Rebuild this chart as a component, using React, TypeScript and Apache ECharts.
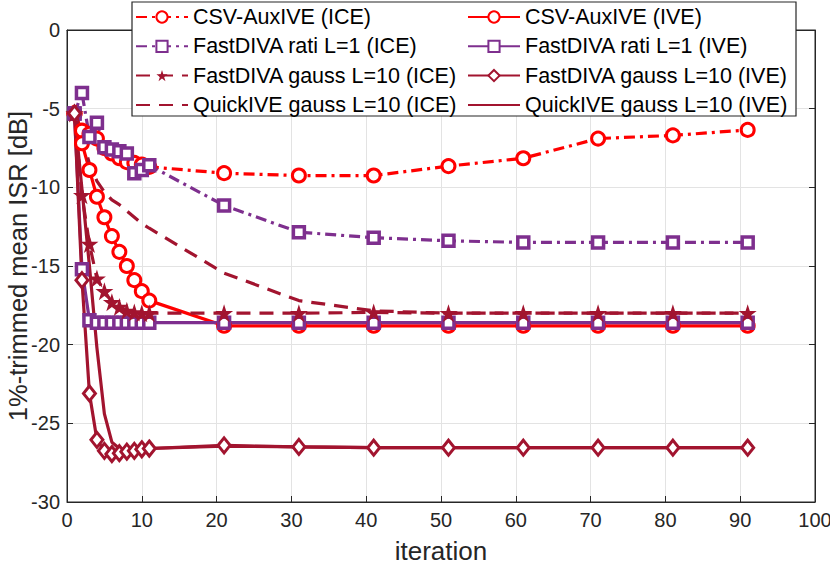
import React, { useEffect, useRef } from "react";
import * as echarts from "echarts";

const iterations = [1, 2, 3, 4, 5, 6, 7, 8, 9, 10, 11, 21, 31, 41, 51, 61, 71, 81, 91];

const csvIce = [-5.3, -6.4, -6.6, -6.9, -7.5, -7.85, -8.15, -8.4, -8.45, -8.55, -8.7, -9.1, -9.25, -9.25, -8.65, -8.15, -6.9, -6.7, -6.35];
const csvIve = [-5.3, -7.2, -8.9, -10.6, -11.9, -13.1, -14.1, -15.0, -15.9, -16.6, -17.2, -18.8, -18.8, -18.8, -18.8, -18.8, -18.8, -18.8, -18.8];
const ratiIce = [-5.3, -4.0, -6.8, -5.9, -7.45, -7.6, -7.7, -7.85, -9.1, -8.9, -8.6, -11.15, -12.85, -13.2, -13.4, -13.5, -13.5, -13.5, -13.5];
const ratiIve = [-5.3, -15.2, -18.45, -18.6, -18.6, -18.6, -18.6, -18.6, -18.6, -18.6, -18.6, -18.6, -18.6, -18.6, -18.6, -18.6, -18.6, -18.6, -18.6];
const gaussIce = [-5.3, -10.5, -13.6, -15.8, -16.6, -17.3, -17.6, -17.85, -17.95, -18.0, -18.0, -18.0, -18.0, -17.95, -18.0, -18.0, -18.0, -18.0, -18.0];
const gaussIve = [-5.3, -15.9, -23.1, -26.05, -26.75, -26.95, -26.9, -26.8, -26.75, -26.65, -26.6, -26.4, -26.5, -26.55, -26.55, -26.55, -26.55, -26.55, -26.55];
const quickIce = [-5.3, -6.8, -8.5, -9.6, -10.3, -10.8, -11.1, -11.5, -11.9, -12.3, -12.6, -15.45, -17.2, -17.85, -18.0, -18.0, -18.0, -18.0, -18.0];
const quickIve = [-5.3, -10.1, -15.0, -20.2, -24.4, -26.2, -26.6, -26.7, -26.65, -26.6, -26.6, -26.45, -26.5, -26.55, -26.55, -26.55, -26.55, -26.55, -26.55];

const xTicks = { min: 0, max: 100, step: 10 };
const yTicks = { min: -30, max: 0, step: 5 };

const names = {
  csvIce: "CSV-AuxIVE (ICE)",
  csvIve: "CSV-AuxIVE (IVE)",
  ratiIce: "FastDIVA rati L=1 (ICE)",
  ratiIve: "FastDIVA rati L=1 (IVE)",
  gaussIce: "FastDIVA gauss L=10 (ICE)",
  gaussIve: "FastDIVA gauss L=10 (IVE)",
  quickIce: "QuickIVE gauss L=10 (ICE)",
  quickIve: "QuickIVE gauss L=10 (IVE)",
};

const RED = "#FF0000";
const PURPLE = "#7E2F8E";
const DARKRED = "#A2142F";
const AXIS = "#262626";
const FONT = "'Liberation Sans', Arial, Helvetica, sans-serif";

const STAR = "path://M50,0 L61.2,34.5 L97.6,34.5 L68.2,55.9 L79.4,90.5 L50,69.1 L20.6,90.5 L31.8,55.9 L2.4,34.5 L38.8,34.5 Z";

const DASHDOT = [11, 5, 3, 5];
const DASHED = [14, 9];

function pairs(ys: number[]) {
  return iterations.map((x, i) => [x, ys[i]]);
}

export default function App() {
  const ref = useRef<HTMLDivElement>(null);
  useEffect(() => {
    if (!ref.current) return;
    const chart = echarts.init(ref.current, undefined, { renderer: "svg" });

    const mk = (
      name: string,
      ys: number[],
      color: string,
      lineType: any,
      symbol: string,
      symbolSize: any,
      fill: string,
      borderWidth: number
    ) => ({
      name,
      type: "line",
      xAxisIndex: 0,
      yAxisIndex: 0,
      data: pairs(ys),
      symbol,
      symbolSize,
      showSymbol: symbol !== "none",
      showAllSymbol: true,
      lineStyle: { color, width: 3.2, type: lineType, cap: "butt" },
      itemStyle: { color: fill, borderColor: color, borderWidth },
      emphasis: { disabled: true },
      z: 2,
    });

    const series = [
      mk(names.csvIce, csvIce, RED, DASHDOT, "circle", 13, "#fff", 3),
      mk(names.csvIve, csvIve, RED, "solid", "circle", 13, "#fff", 3),
      mk(names.ratiIce, ratiIce, PURPLE, DASHDOT, "rect", 11, "#fff", 3.5),
      mk(names.ratiIve, ratiIve, PURPLE, "solid", "rect", 11, "#fff", 3.5),
      mk(names.gaussIce, gaussIce, DARKRED, DASHED, STAR, 18, DARKRED, 0),
      mk(names.gaussIve, gaussIve, DARKRED, "solid", "diamond", [12, 15], "#fff", 3),
      mk(names.quickIce, quickIce, DARKRED, DASHED, "none", 0, DARKRED, 0),
      mk(names.quickIve, quickIve, DARKRED, "solid", "none", 0, DARKRED, 0),
    ];

    const legendCommon = {
      orient: "vertical",
      top: 6,
      padding: 0,
      itemWidth: 52,
      itemHeight: 14,
      itemGap: 7.3,
      z: 10,
      selectedMode: false,
      textStyle: { fontSize: 21.5, color: "#000", fontFamily: FONT },
    };

    const hideSym = (n: string) =>
      n === names.quickIce || n === names.quickIve ? { name: n, itemStyle: { opacity: 0 } } : { name: n };

    const option: any = {
      animation: false,
      textStyle: { fontFamily: FONT },
      grid: {
        left: 67,
        right: 15,
        top: 30,
        bottom: 63,
        outerBoundsMode: "none",
        containLabel: false,
        show: true,
        borderColor: AXIS,
        borderWidth: 1,
        backgroundColor: "#fff",
      },
      xAxis: [
        {
          type: "value",
          min: xTicks.min,
          max: xTicks.max,
          interval: xTicks.step,
          name: "iteration",
          nameLocation: "middle",
          nameGap: 36,
          nameMoveOverlap: false,
          nameTextStyle: { fontSize: 26, color: AXIS, fontFamily: FONT },
          axisLine: { show: true, onZero: false, lineStyle: { color: AXIS, width: 1 } },
          axisTick: { show: true, inside: true, length: 6, lineStyle: { color: AXIS } },
          axisLabel: { fontSize: 20, color: AXIS, margin: 8, fontFamily: FONT },
          splitLine: { show: true, lineStyle: { color: "#e3e3e3", width: 1 } },
        },
        {
          type: "value",
          position: "top",
          min: xTicks.min,
          max: xTicks.max,
          interval: xTicks.step,
          axisLine: { show: true, onZero: false, lineStyle: { color: AXIS, width: 1 } },
          axisTick: { show: true, inside: true, length: 6, lineStyle: { color: AXIS } },
          axisLabel: { show: false },
          splitLine: { show: false },
        },
      ],
      yAxis: [
        {
          type: "value",
          min: yTicks.min,
          max: yTicks.max,
          interval: yTicks.step,
          name: "1%-trimmed mean ISR [dB]",
          nameLocation: "middle",
          nameGap: 36,
          nameMoveOverlap: false,
          nameTextStyle: { fontSize: 25.5, color: AXIS, fontFamily: FONT },
          axisLine: { show: true, onZero: false, lineStyle: { color: AXIS, width: 1 } },
          axisTick: { show: true, inside: true, length: 6, lineStyle: { color: AXIS } },
          axisLabel: { fontSize: 20, color: AXIS, margin: 7, fontFamily: FONT },
          splitLine: { show: true, lineStyle: { color: "#e3e3e3", width: 1 } },
        },
        {
          type: "value",
          position: "right",
          min: yTicks.min,
          max: yTicks.max,
          interval: yTicks.step,
          axisLine: { show: true, onZero: false, lineStyle: { color: AXIS, width: 1 } },
          axisTick: { show: true, inside: true, length: 6, lineStyle: { color: AXIS } },
          axisLabel: { show: false },
          splitLine: { show: false },
        },
      ],
      legend: [
        {
          ...legendCommon,
          left: 135,
          data: [names.csvIce, names.ratiIce, names.gaussIce, names.quickIce].map(hideSym),
        },
        {
          ...legendCommon,
          left: 467,
          data: [names.csvIve, names.ratiIve, names.gaussIve, names.quickIve].map(hideSym),
        },
      ],
      graphic: {
        elements: [
          {
            type: "rect",
            z: 5,
            shape: { x: 132, y: 2, width: 664, height: 114 },
            style: { fill: "#fff", stroke: AXIS, lineWidth: 1.2 },
          },
        ],
      },
      series,
    };

    chart.setOption(option);
    return () => chart.dispose();
  }, []);

  return (
    <div
      ref={ref}
      style={{ position: "fixed", left: 0, top: 0, width: 830, height: 565, background: "#fff" }}
    />
  );
}
